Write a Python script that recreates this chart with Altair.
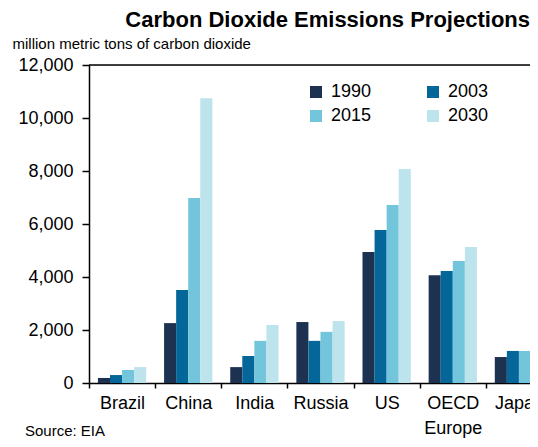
import altair as alt
import pandas as pd

# ---- data ----
regions = ["Brazil", "China", "India", "Russia", "US", "OECD Europe", "Japan"]
years = ["1990", "2003", "2015", "2030"]
e1990 = [190, 2260, 600, 2300, 4940, 4070, 980]
e2003 = [300, 3510, 1020, 1590, 5770, 4230, 1210]
e2015 = [490, 6980, 1590, 1930, 6720, 4600, 1210]
e2030 = [600, 10750, 2190, 2340, 8080, 5130, 1210]
y_ticks = [0, 2000, 4000, 6000, 8000, 10000, 12000]
colors = ["#1d3250", "#046699", "#72c5da", "#bde3ec"]

title_text = "Carbon Dioxide Emissions Projections"
unit_text = "million metric tons of carbon dioxide"
source_text = "Source: EIA"

rows = []
for yr, vals in zip(years, [e1990, e2003, e2015, e2030]):
    for r, v in zip(regions, vals):
        rows.append({"region": r, "year": yr, "value": v})
df = pd.DataFrame(rows)

FONT = "Liberation Sans"
W, H = 441, 318
RANGE = 463

bars = alt.Chart(df).mark_bar(clip=True).encode(
    x=alt.X(
        "region:N", sort=regions,
        scale=alt.Scale(range=[0, RANGE], paddingInner=0, paddingOuter=0),
        axis=alt.Axis(
            title=None, tickBand="extent", labelAngle=0,
            tickSize=5, tickWidth=1.5, tickColor="black",
            domainColor="black", domainWidth=1.5,
            labelPadding=6, labelFontSize=18, labelColor="black", labelFont=FONT,
            labelLineHeight=25, labelOverlap=False,
            labelExpr="datum.label == 'OECD Europe' ? ['OECD', 'Europe'] : datum.label",
        ),
    ),
    xOffset=alt.XOffset("year:N", sort=years,
                        scale=alt.Scale(paddingInner=0, paddingOuter=0.74)),
    y=alt.Y(
        "value:Q",
        scale=alt.Scale(domain=[0, 12000], nice=False),
        axis=alt.Axis(
            values=y_ticks, format=",.0f", grid=False,
            tickSize=7, tickWidth=1.5, tickColor="black",
            domainColor="black", domainWidth=1.5,
            labelPadding=9, labelFontSize=18, labelColor="black", labelFont=FONT,
            title=unit_text, titleAngle=0, titleX=-77, titleY=-17,
            titleAlign="left", titleBaseline="alphabetic",
            titleFontSize=15, titleFontWeight="normal", titleColor="black",
            titleFont=FONT,
        ),
    ),
    color=alt.Color(
        "year:N", sort=years,
        scale=alt.Scale(domain=years, range=colors),
        legend=alt.Legend(
            title=None, orient="none", legendX=218, legendY=18, columns=2,
            direction="horizontal",
            symbolType="square", symbolSize=144, symbolStrokeWidth=0,
            symbolOpacity=1, labelFontSize=18, labelFont=FONT, labelColor="black",
            labelOffset=6, rowPadding=6, columnPadding=52, padding=0,
        ),
    ),
)

top_rule = alt.Chart(pd.DataFrame({"top": [12000]})).mark_rule(
    color="black", strokeWidth=1.5
).encode(y="top:Q")

title = alt.Chart(pd.DataFrame({"t": [title_text]})).mark_text(
    align="right", baseline="alphabetic", fontSize=22, fontWeight="bold",
    font=FONT, color="black"
).encode(x=alt.value(441), y=alt.value(-38), text="t:N")

source = alt.Chart(pd.DataFrame({"t": [source_text]})).mark_text(
    align="left", baseline="alphabetic", fontSize=15, font=FONT, color="black"
).encode(x=alt.value(-64), y=alt.value(371), text="t:N")

chart = alt.layer(bars, top_rule, title, source).properties(
    width=W, height=H,
    padding={"left": 81, "top": 57, "right": 0, "bottom": 55},
    autosize=alt.AutoSizeParams(type="none"),
).configure_view(stroke=None).configure(font=FONT)

chart.save("out.html", embed_options={"renderer": "svg", "actions": False})
